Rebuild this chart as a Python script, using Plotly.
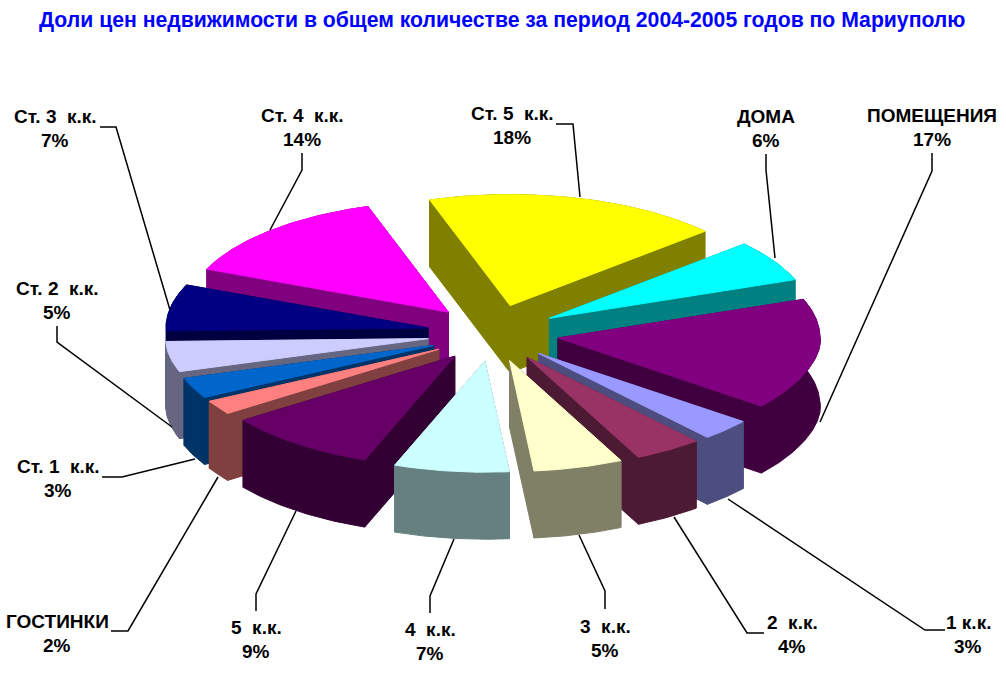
import math
import plotly.graph_objects as go

TITLE = "Доли цен недвижимости в общем количестве за период 2004-2005 годов по Мариуполю"
categories = ["ДОМА", "ПОМЕЩЕНИЯ", "1 к.к.", "2  к.к.", "3  к.к.", "4  к.к.", "5  к.к.",
              "ГОСТИНКИ", "Ст. 1  к.к.", "Ст. 2  к.к.", "Ст. 3  к.к.", "Ст. 4  к.к.", "Ст. 5  к.к."]
shares = [6, 17, 3, 4, 5.25, 6.75, 9, 2, 3, 5, 7, 13.7, 18.3]
top_colors = ["#00FFFF", "#800080", "#9999FF", "#993366", "#FFFFCC", "#CCFFFF", "#660066",
              "#FF8080", "#0066CC", "#CCCCFF", "#000080", "#FF00FF", "#FFFF00"]
side_colors = ["#008080", "#400040", "#4D4D80", "#4D1A33", "#808066", "#668080", "#330033",
               "#804040", "#003366", "#666680", "#000040", "#800080", "#808000"]
label_pos = [(766, 116), (932, 115), (968, 622), (792, 622), (605, 626), (430, 629), (256, 627),
             (57, 621), (58, 466), (57, 288), (55, 116), (302, 115), (512, 113)]
leaders = [
    [(766, 154), (766, 170), (775, 258)],
    [(932, 153), (932, 171), (820, 422)],
    [(945, 630), (925, 630), (728, 499)],
    [(764, 633), (747, 633), (674, 517)],
    [(605, 609), (605, 591), (579, 535)],
    [(430, 613), (430, 596), (454, 539)],
    [(256, 611), (256, 594), (296, 511)],
    [(111, 631), (128, 631), (218, 477)],
    [(102, 477), (122, 477), (195, 459)],
    [(57, 326), (57, 342), (172, 427)],
    [(100, 127), (116, 127), (170, 310)],
    [(302, 153), (302, 170), (270, 230)],
    [(556, 124), (573, 124), (580, 197)],
]

CX, CY = 493, 333
RX, RY = 262, 111
SQUASH = 111 / 258
EXPLODE = 66
DEPTH = 67
START = 48.0
PERSPECTIVE = 0.00035
FRONT_POWER = 1.15


def pt(ax, ay, t):
    a = math.radians(t)
    c = math.cos(a)
    y = ay - RY * c if c >= 0 else ay + RY * (-c) ** FRONT_POWER
    grow = 1 + PERSPECTIVE * max(0.0, y - CY)
    return ax + RX * grow * math.sin(a), y


total = sum(shares)
slices = []
t0 = START
for i, v in enumerate(shares):
    t1 = t0 + 360.0 * v / total
    mid = math.radians((t0 + t1) / 2)
    ax = CX + EXPLODE * math.sin(mid)
    ay = CY - EXPLODE * SQUASH * math.cos(mid)
    slices.append((-math.cos(mid), i, t0, t1, ax, ay))
    t0 = t1

fig = go.Figure()


def poly(xs, ys, color, i):
    fig.add_trace(go.Scatter(x=xs, y=ys, mode="lines", fill="toself", fillcolor=color,
                             line=dict(color=color, width=1), name=categories[i],
                             hoverinfo="text", text=f"{categories[i].strip()}: {round(shares[i])}%",
                             showlegend=False))


for _, i, a0, a1, ax, ay in sorted(slices):
    n = max(8, int((a1 - a0) * 1.5))
    arc = [pt(ax, ay, a0 + (a1 - a0) * k / n) for k in range(n + 1)]
    for (qx, qy) in (arc[0], arc[-1]):
        poly([ax, qx, qx, ax, ax], [ay, qy, qy + DEPTH, ay + DEPTH, ay], side_colors[i], i)
    poly([p[0] for p in arc] + [p[0] for p in reversed(arc)] + [arc[0][0]],
         [p[1] for p in arc] + [p[1] + DEPTH for p in reversed(arc)] + [arc[0][1]], side_colors[i], i)
    poly([ax] + [p[0] for p in arc] + [ax], [ay] + [p[1] for p in arc] + [ay], top_colors[i], i)

for path in leaders:
    fig.add_trace(go.Scatter(x=[p[0] for p in path], y=[p[1] for p in path], mode="lines",
                             line=dict(color="black", width=1.5), hoverinfo="skip", showlegend=False))

annotations = [dict(x=502, y=20, xref="x", yref="y", text=f"<b>{TITLE}</b>", showarrow=False,
                    font=dict(family="Liberation Sans", size=21.2, color="#0000FF"))]
for name, v, (lx, ly) in zip(categories, shares, label_pos):
    for text, yy in ((name, ly), (f"{round(v)}%", ly + 24)):
        annotations.append(dict(x=lx, y=yy, xref="x", yref="y", text=f"<b>{text}</b>", showarrow=False,
                                font=dict(family="Liberation Sans", size=19, color="black")))

fig.update_layout(
    width=1006, height=678, margin=dict(l=0, r=0, t=0, b=0),
    paper_bgcolor="white", plot_bgcolor="white", showlegend=False,
    xaxis=dict(range=[0, 1006], visible=False, fixedrange=True),
    yaxis=dict(range=[678, 0], visible=False, fixedrange=True),
    annotations=annotations,
)
fig.write_html("out.html", config=dict(displayModeBar=False),
               post_script="document.body.style.margin='0';document.body.style.overflow='hidden';")
